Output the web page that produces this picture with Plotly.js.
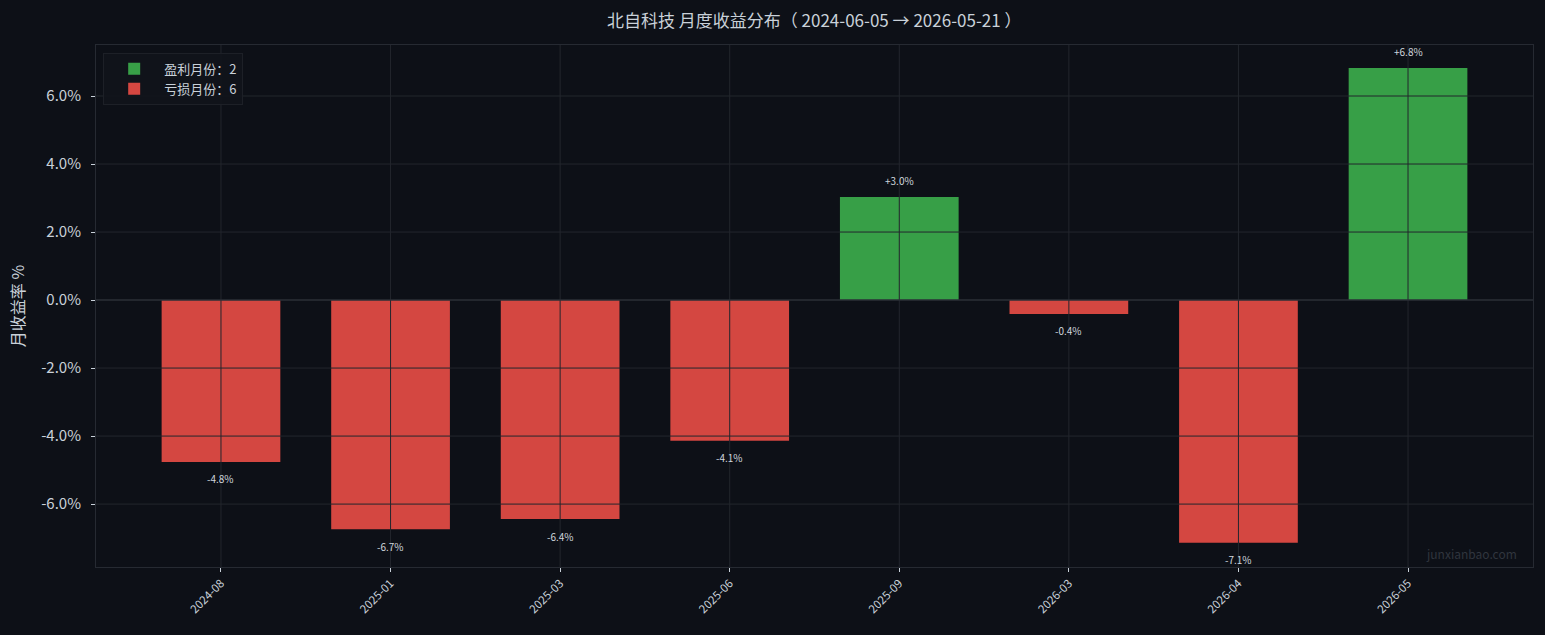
<!DOCTYPE html>
<html>
<head>
<meta charset="utf-8">
<script src="https://cdn.plot.ly/plotly-3.0.1.min.js"></script>
<style>
  html, body { margin: 0; padding: 0; background: #0d1017; }
  #chart { width: 1545px; height: 635px; }
</style>
</head>
<body>
<div id="chart"></div>
<script>
// monthly returns
const months = ["2024-08", "2025-01", "2025-03", "2025-06", "2025-09", "2026-03", "2026-04", "2026-05"];
const returns = [-4.76, -6.74, -6.44, -4.14, 3.03, -0.41, -7.14, 6.82];
const yTicks = [-6, -4, -2, 0, 2, 4, 6];

const bg = "#0d1017";
const txt = "#c9d1d9";
const gridColor = "#23262d";
const font = "Noto Sans CJK SC, Noto Sans, sans-serif";

const upX = [], upY = [], downX = [], downY = [];
months.forEach((m, i) => {
	if (returns[i] >= 0) { upX.push(m); upY.push(returns[i]); }
	else { downX.push(m); downY.push(returns[i]); }
});

const traces = [
	{
		x: upX, y: upY, type: "bar", width: 0.7,
		name: "盈利月份：" + upX.length,
		marker: { color: "rgba(63,185,80,0.85)", line: { width: 0 } },
		hoverinfo: "x+y"
	},
	{
		x: downX, y: downY, type: "bar", width: 0.7,
		name: "亏损月份：" + downX.length,
		marker: { color: "rgba(248,81,73,0.85)", line: { width: 0 } },
		hoverinfo: "x+y"
	}
];

// grid drawn above the bars, like the original
const shapes = [];
months.forEach((m) => {
	shapes.push({ type: "line", layer: "above", xref: "x", yref: "paper", x0: m, x1: m, y0: 0, y1: 1,
		line: { color: gridColor, width: 1 } });
});
yTicks.forEach((t) => {
	shapes.push({ type: "line", layer: "above", xref: "paper", yref: "y", x0: 0, x1: 1, y0: t, y1: t,
		line: { color: t === 0 ? "#2b2f37" : gridColor, width: t === 0 ? 1.6 : 1 } });
});

const annotations = months.map((m, i) => ({
	x: m, y: returns[i], xref: "x", yref: "y",
	text: (returns[i] >= 0 ? "+" : "") + returns[i].toFixed(1) + "%",
	showarrow: false,
	yshift: returns[i] >= 0 ? 17 : -17,
	font: { size: 10, color: "#d0d6dd", family: font }
}));
annotations.push({
	xref: "paper", yref: "paper", x: 0.99, y: 0.005, xanchor: "right", yanchor: "bottom",
	text: "junxianbao.com", showarrow: false,
	font: { size: 12, color: "#30353e", family: font }
});

Plotly.newPlot("chart", traces, {
	width: 1545,
	height: 635,
	paper_bgcolor: bg,
	plot_bgcolor: bg,
	font: { family: font, color: txt, size: 12 },
	margin: { l: 96, r: 12, t: 45, b: 68 },
	barmode: "relative",
	title: {
		text: "北自科技 月度收益分布（ 2024-06-05 → 2026-05-21 ）",
		x: 0.527, xanchor: "center", y: 0.967, yanchor: "middle",
		font: { size: 17, color: txt, family: font }
	},
	xaxis: {
		type: "category",
		categoryorder: "array",
		categoryarray: months,
		range: [-0.737, months.length - 1 + 0.737],
		tickangle: -45,
		tickfont: { size: 11.5, color: txt },
		ticks: "outside", ticklen: 4, tickcolor: txt, tickwidth: 1,
		showgrid: false, zeroline: false,
		showline: true, mirror: true, linecolor: "#262a32", linewidth: 1
	},
	yaxis: {
		range: [-7.85, 7.5],
		tickvals: yTicks,
		ticktext: yTicks.map((t) => t.toFixed(1) + "%"),
		tickfont: { size: 15, color: txt },
		ticks: "outside", ticklen: 4, tickcolor: txt, tickwidth: 1,
		ticklabelstandoff: 7,
		showgrid: false, zeroline: false,
		showline: true, mirror: true, linecolor: "#262a32", linewidth: 1,
		title: { text: "月收益率 %", font: { size: 16, color: txt }, standoff: 12 }
	},
	legend: {
		x: 0.005, y: 0.985, xanchor: "left", yanchor: "top",
		bgcolor: "rgba(17,20,27,0.9)",
		bordercolor: "#1d2027", borderwidth: 1,
		font: { size: 13, color: txt, family: font },
		itemwidth: 50, tracegroupgap: 2
	},
	shapes: shapes,
	annotations: annotations,
	showlegend: true
}, { displayModeBar: false, responsive: false });
</script>
</body>
</html>
